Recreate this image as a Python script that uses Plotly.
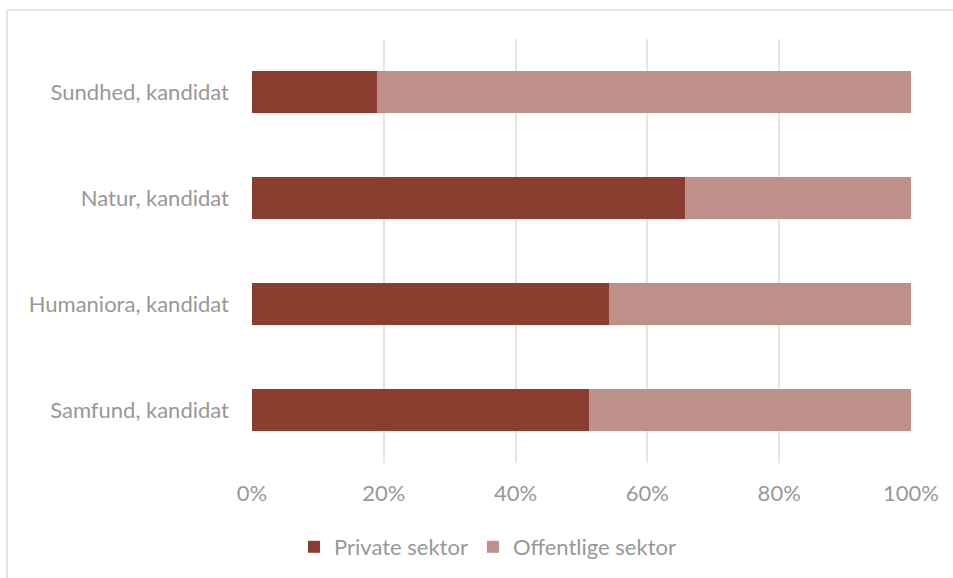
import plotly.graph_objects as go

categories = ["Samfund, kandidat", "Humaniora, kandidat", "Natur, kandidat", "Sundhed, kandidat"]
private = [0.511, 0.541, 0.657, 0.190]
offentlige = [1 - v for v in private]
tick_vals = [0, 0.2, 0.4, 0.6, 0.8, 1.0]
tick_text = ["0%", "20%", "40%", "60%", "80%", "100%"]

W, H = 953, 578
L, R, T, B = 252, 42, 39, 115
pw, ph = W - L - R, H - T - B

def px(x):
    return (x - L) / pw

def py(y):
    return (H - B - y) / ph

fig = go.Figure()
fig.add_trace(go.Bar(y=categories, x=private, orientation="h", name="Private sektor",
                     marker=dict(color="#8B3E2F", line=dict(width=0))))
fig.add_trace(go.Bar(y=categories, x=offentlige, orientation="h", name="Offentlige sektor",
                     marker=dict(color="#BE908A", line=dict(width=0))))

font_family = "Lato, 'Open Sans', sans-serif"
txt = "#989898"
fig.update_layout(
    width=W, height=H,
    barmode="stack", bargap=0.6,
    margin=dict(l=L, r=R, t=T, b=B, autoexpand=False),
    paper_bgcolor="white", plot_bgcolor="white",
    font=dict(family=font_family, size=22, color=txt),
    xaxis=dict(range=[0, 1], tickvals=tick_vals, ticktext=tick_text,
               showgrid=True, gridcolor="#e5e5e5", gridwidth=1.5,
               zeroline=False, showline=False, ticks="", ticklabelstandoff=15,
               tickfont=dict(size=22, color=txt)),
    yaxis=dict(showgrid=False, zeroline=False, showline=False, ticks="",
               ticklabelstandoff=22, tickfont=dict(size=22, color=txt)),
    legend=dict(orientation="h", x=px(294), xanchor="left", y=py(547), yanchor="middle",
                font=dict(size=22, color=txt), traceorder="normal",
                itemwidth=30, itemclick=False),
    showlegend=True,
    shapes=[
        dict(type="line", xref="paper", yref="paper", x0=px(7), x1=px(960), y0=py(10), y1=py(10),
             line=dict(color="#dcdcdc", width=1.5)),
        dict(type="line", xref="paper", yref="paper", x0=px(7), x1=px(7), y0=py(10), y1=py(590),
             line=dict(color="#dcdcdc", width=1.5)),
    ],
)

fig.write_html("out.html", config={"displayModeBar": False},
               post_script="document.body.style.margin='0px';document.body.style.overflow='hidden';")
